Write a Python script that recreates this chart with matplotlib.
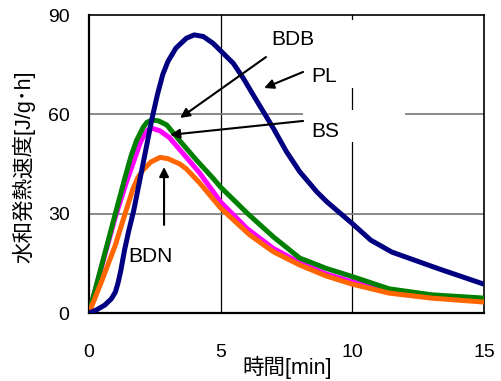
import matplotlib
matplotlib.use("Agg")
import matplotlib.pyplot as plt
from matplotlib.patches import Rectangle

plt.rcParams['font.family'] = ['Liberation Sans', 'Noto Sans CJK JP', 'DejaVu Sans']

# ---- data ----
pl_t = [0, 0.3, 0.6, 0.85, 1.0, 1.1, 1.2, 1.35, 1.5, 1.7, 1.9, 2.1, 2.4, 2.6, 2.8, 3.0, 3.3,
        3.7, 4.0, 4.34, 4.72, 5.1, 5.48, 5.86, 6.24, 6.62, 7.0, 7.5, 8.0, 8.65, 9.03, 10.0,
        10.7, 11.5, 13.3, 15.0]
pl_v = [0, 1.0, 2.4, 4.3, 6.3, 9, 12.5, 19, 24.5, 31, 39, 47, 59, 66, 72, 76, 80,
        83, 84, 83.5, 81.4, 78.4, 75.4, 70.9, 65.8, 60.8, 55.8, 48.7, 42.7, 36.6, 33.6, 27,
        22, 18.4, 13.3, 8.7]

bdb_t = [0, 0.6, 1.0, 1.37, 1.6, 1.8, 2.05, 2.2, 2.4, 2.65, 2.95, 3.45, 4.1, 4.7, 5.0, 6.0,
         7.0, 8.0, 9.0, 10.0, 11.4, 13.0, 15.0]
bdb_v = [0, 18, 30, 41, 47.5, 52, 56, 57.6, 58.3, 58.0, 56.8, 52, 46, 40.8, 38, 30.2,
         23, 16.6, 13.5, 11, 7.3, 5.5, 4.5]

bs_t = [0, 0.6, 1.0, 1.4, 1.75, 1.95, 2.1, 2.25, 2.4, 2.7, 3.05, 3.7, 4.2, 5.0, 6.0, 7.0,
        8.0, 9.0, 10.0, 11.4, 13.0, 15.0]
bs_v = [0, 17.5, 29, 39, 47, 51.5, 54, 55.4, 55.8, 55.0, 53, 47, 42.3, 33.5, 25.5, 19.5,
        15.2, 11.8, 9.4, 6.8, 5.0, 3.6]

bdn_t = [0, 0.5, 1.0, 1.37, 1.67, 1.85, 2.05, 2.35, 2.7, 3.0, 3.45, 3.7, 4.2, 5.0, 6.1,
         7.0, 8.0, 9.0, 10.0, 11.4, 13.0, 15.0]
bdn_v = [0, 10, 20.5, 30, 37.5, 40.8, 43.2, 45.6, 47, 46.6, 45, 43.5, 39.3, 31.7, 23.6,
         18.5, 14.5, 11.2, 8.7, 6.0, 4.5, 3.3]

x_ticks = [0, 5, 10, 15]
y_ticks = [0, 30, 60, 90]
x_label = "時間[min]"
y_label = "水和発熱速度[J/g･h]"

# ---- figure ----
fig = plt.figure(figsize=(5.02, 3.81), dpi=100)
ax = fig.add_axes([89/502, 1-313/381, (484-89)/502, (313-15)/381])
ax.set_xlim(0, 15)
ax.set_ylim(0, 90)
ax.set_xticks(x_ticks)
ax.set_yticks(y_ticks)
ax.tick_params(length=0, labelsize=14)
ax.tick_params(axis='y', pad=14)
ax.tick_params(axis='x', pad=22)

for v in [5, 10]:
    ax.axvline(v, color='black', lw=0.9, zorder=1)
for v in [30, 60]:
    ax.axhline(v, color='#808080', lw=1.3, zorder=1)

for s in ['left', 'bottom']:
    ax.spines[s].set_linewidth(1.6)
for s in ['top', 'right']:
    ax.spines[s].set_linewidth(1.2)

# white label boxes covering grid
for (x0, y0, x1, y1) in [(6.72, 77.6, 10.9, 88.5), (8.13, 67.9, 12.0, 77.6), (8.13, 51.6, 12.0, 61.3)]:
    ax.add_patch(Rectangle((x0, y0), x1-x0, y1-y0, facecolor='white', edgecolor='none', zorder=2))

lw = 3.6
kw = dict(lw=lw, solid_joinstyle='round', solid_capstyle='butt')
ax.plot(bs_t, bs_v, color='#FF00FF', zorder=3, **kw)
ax.plot(bdb_t, bdb_v, color='#008000', zorder=4, **kw)
ax.plot(bdn_t, bdn_v, color='#FF6600', zorder=5, **kw)
ax.plot(pl_t, pl_v, color='#000080', zorder=6, **kw)

ap = dict(arrowstyle='-|>', lw=1.5, color='black', mutation_scale=14, shrinkA=0, shrinkB=0)
fs = 15
ax.annotate('', xy=(3.46, 58.9), xytext=(6.72, 77.3), arrowprops=ap, zorder=7)
ax.annotate('', xy=(6.65, 67.95), xytext=(8.13, 72.8), arrowprops=ap, zorder=7)
ax.annotate('', xy=(3.08, 53.8), xytext=(8.13, 58.0), arrowprops=ap, zorder=7)
ax.annotate('', xy=(2.85, 44.1), xytext=(2.85, 26.6), arrowprops=ap, zorder=7)

ax.text(6.91, 80.9, 'BDB', fontsize=fs, ha='left', va='baseline', zorder=8)
ax.text(8.43, 69.8, 'PL', fontsize=fs, ha='left', va='baseline', zorder=8)
ax.text(8.43, 53.2, 'BS', fontsize=fs, ha='left', va='baseline', zorder=8)
ax.text(1.48, 15.4, 'BDN', fontsize=fs, ha='left', va='baseline', zorder=8)

fig.text(24/502, 1-167/381, y_label, rotation=90, ha='center', va='center', fontsize=15.5)
fig.text(287/502, 1-367/381, x_label, ha='center', va='center', fontsize=15.5)

fig.savefig('out.png', dpi=100)
